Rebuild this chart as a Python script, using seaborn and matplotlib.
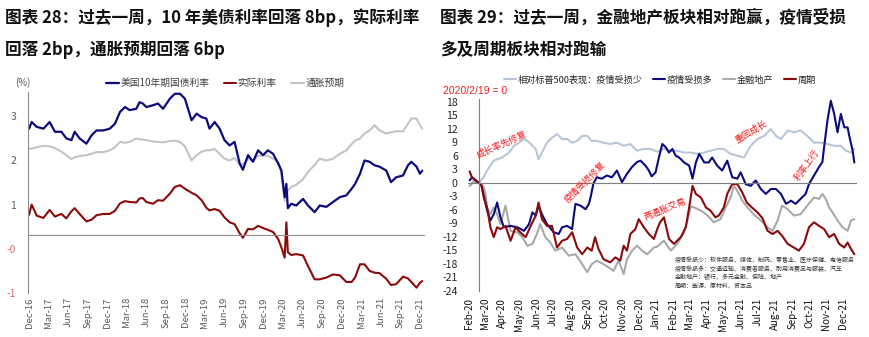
import matplotlib
matplotlib.use("Agg")
import matplotlib.pyplot as plt
import matplotlib.dates as mdates
import pandas as pd
import seaborn as sns

sns.set_theme(style="white")
plt.rcParams["font.family"] = ["Noto Sans CJK SC", "DejaVu Sans"]
plt.rcParams["axes.unicode_minus"] = False

# ---------------- 图表 28：美债利率 / 实际利率 / 通胀预期 (%) ----------------
us_dates = [
    "2016-12-01", "2016-12-13", "2017-01-06", "2017-02-06", "2017-03-07", "2017-04-01",
    "2017-05-01", "2017-05-24", "2017-06-17", "2017-07-02", "2017-07-25", "2017-08-26",
    "2017-09-19", "2017-10-12", "2017-11-13", "2017-12-13", "2018-01-06", "2018-01-30",
    "2018-02-22", "2018-03-16", "2018-04-16", "2018-05-01", "2018-05-16", "2018-06-02",
    "2018-07-03", "2018-07-26", "2018-08-19", "2018-09-20", "2018-10-13", "2018-11-06",
    "2018-11-29", "2018-12-30", "2019-01-23", "2019-02-15", "2019-03-09", "2019-03-24",
    "2019-04-17", "2019-05-10",
    "2019-06-02", "2019-06-26", "2019-07-19", "2019-08-12", "2019-08-27", "2019-09-20",
    "2019-10-13", "2019-11-06", "2019-11-29", "2019-12-22", "2020-01-15", "2020-02-08",
    "2020-02-23", "2020-03-09", "2020-03-17", "2020-03-24", "2020-04-09", "2020-05-02",
    "2020-06-03", "2020-06-26", "2020-07-27", "2020-08-20", "2020-09-20", "2020-10-21",
    "2020-11-22", "2020-12-22", "2021-01-16", "2021-02-01", "2021-02-24", "2021-03-17",
    "2021-04-10", "2021-05-03", "2021-05-26", "2021-06-27", "2021-07-19", "2021-08-12",
    "2021-09-13", "2021-10-06", "2021-10-22", "2021-11-15", "2021-12-01", "2021-12-12",
]
ust10y = [
    2.72, 2.87, 2.76, 2.72, 2.87, 2.65, 2.65, 2.50, 2.46, 2.65,
    2.50, 2.38, 2.57, 2.68, 2.68, 2.72, 2.83, 3.10, 3.21, 3.14,
    3.17, 3.32, 3.29, 3.21, 3.25, 3.29, 3.17, 3.40, 3.51, 3.51,
    3.40, 2.91, 3.06, 2.98, 2.95, 2.72, 2.87, 2.72,
    2.46, 2.34, 2.42, 1.93, 1.79, 2.12, 1.97, 2.23, 2.12, 2.23,
    2.15, 1.93, 1.77, 1.17, 1.47, 0.92, 1.02, 0.98, 1.13, 0.98,
    0.83, 0.98, 0.95, 1.06, 1.17, 1.21, 1.36, 1.47, 1.70, 2.00,
    1.97, 1.89, 1.86, 1.77, 1.51, 1.62, 1.66, 1.89, 1.97, 1.86,
    1.70, 1.77,
]
real_rate = [
    0.77, 1.00, 0.75, 0.70, 0.88, 0.73, 0.79, 0.69, 0.85, 0.92,
    0.79, 0.62, 0.66, 0.76, 0.79, 0.79, 0.86, 1.03, 1.08, 1.06,
    1.05, 1.14, 1.15, 1.06, 1.02, 1.10, 1.09, 1.25, 1.40, 1.44,
    1.36, 1.27, 1.21, 1.10, 0.93, 0.87, 0.90, 0.86,
    0.71, 0.60, 0.56, 0.35, 0.25, 0.45, 0.44, 0.52, 0.47, 0.43,
    0.38, 0.22, 0.03, -0.20, 0.60, -0.08, -0.14, -0.12, -0.15, -0.39,
    -0.69, -0.69, -0.65, -0.58, -0.60, -0.75, -0.75, -0.65, -0.35, -0.35,
    -0.50, -0.54, -0.55, -0.68, -0.82, -0.80, -0.63, -0.67, -0.75, -0.88,
    -0.77, -0.73,
]
breakeven = [
    2.27, 2.27, 2.30, 2.33, 2.32, 2.28, 2.20, 2.12, 2.03, 2.07,
    2.10, 2.12, 2.15, 2.19, 2.19, 2.23, 2.30, 2.42, 2.40, 2.42,
    2.50, 2.48, 2.47, 2.46, 2.43, 2.42, 2.41, 2.44, 2.45, 2.42,
    2.32, 2.00, 2.12, 2.20, 2.23, 2.23, 2.26, 2.15,
    2.04, 2.00, 2.06, 1.90, 1.92, 2.03, 2.00, 2.10, 2.12, 2.10,
    2.04, 1.97, 1.70, 1.09, 1.20, 1.32, 1.40, 1.45, 1.58, 1.74,
    1.90, 2.04, 2.00, 2.04, 2.15, 2.23, 2.37, 2.45, 2.50, 2.61,
    2.68, 2.80, 2.68, 2.61, 2.64, 2.66, 2.66, 2.83, 2.95, 2.95,
    2.80, 2.72,
]
left_yticks = [-1, 0, 1, 2, 3]
left_yticklabels = ["-1", "-0", "1", "2", "3"]

# ---------------- 图表 29：相对标普500表现 (2020/2/19 = 0) ----------------
less_hit_dates = [
    "2020-02-03", "2020-02-10", "2020-02-19", "2020-02-28", "2020-03-05", "2020-03-11",
    "2020-03-17", "2020-03-23", "2020-04-01", "2020-04-10", "2020-04-16", "2020-04-22",
    "2020-05-01", "2020-05-10", "2020-05-16", "2020-05-22", "2020-05-31", "2020-06-05",
    "2020-06-11", "2020-06-20", "2020-06-29", "2020-07-08", "2020-07-17", "2020-07-26",
    "2020-08-04", "2020-08-13", "2020-08-22", "2020-08-31", "2020-09-08", "2020-09-17",
    "2020-09-29", "2020-10-11", "2020-10-23", "2020-11-04", "2020-11-16", "2020-11-28",
    "2020-12-10", "2020-12-22", "2021-01-03", "2021-01-15", "2021-01-27", "2021-02-08",
    "2021-02-20", "2021-03-04", "2021-03-16", "2021-03-28", "2021-04-08", "2021-04-20",
    "2021-05-02", "2021-05-14", "2021-05-26", "2021-06-07", "2021-06-19", "2021-07-01",
    "2021-07-13", "2021-07-25", "2021-08-03", "2021-08-12", "2021-08-24", "2021-09-04",
    "2021-09-16", "2021-09-28", "2021-10-10", "2021-10-22", "2021-11-03", "2021-11-15",
    "2021-11-27", "2021-12-06", "2021-12-15", "2021-12-21",
]
less_hit = [
    -0.7, 0.5, 0.0, 1.2, 2.7, 3.8, 4.9, 5.2, 5.6, 6.4,
    7.1, 8.2, 8.9, 9.7, 9.3, 8.6, 7.5, 5.2, 6.7, 8.9,
    10.0, 10.8, 9.7, 9.7, 8.9, 9.3, 10.4, 10.4, 9.3, 9.3,
    8.9, 8.6, 8.9, 8.2, 8.6, 7.1, 7.5, 7.5, 6.9, 7.5,
    7.1, 7.1, 6.7, 6.7, 6.4, 6.7, 7.1, 7.5, 7.5, 6.4,
    6.0, 5.6, 8.2, 9.7, 10.4, 11.9, 10.4, 9.7, 11.6, 11.2,
    11.6, 10.4, 8.9, 8.9, 8.6, 8.2, 8.2, 7.1, 6.7, 7.5,
]

more_hit_dates = [
    "2020-02-03", "2020-02-07", "2020-02-19", "2020-02-24", "2020-02-28", "2020-03-05",
    "2020-03-11", "2020-03-17", "2020-03-23", "2020-03-29", "2020-04-04", "2020-04-16",
    "2020-04-28", "2020-05-10", "2020-05-19", "2020-05-25", "2020-05-31", "2020-06-05",
    "2020-06-11", "2020-06-20", "2020-07-02", "2020-07-11", "2020-07-17", "2020-07-26",
    "2020-08-04", "2020-08-07", "2020-08-10", "2020-08-19", "2020-08-28", "2020-09-03",
    "2020-09-06", "2020-09-11", "2020-09-17", "2020-09-26", "2020-10-05", "2020-10-14",
    "2020-10-23", "2020-11-01", "2020-11-10", "2020-11-19", "2020-11-28", "2020-12-04",
    "2020-12-13", "2020-12-19", "2020-12-24", "2020-12-31", "2021-01-06", "2021-01-12",
    "2021-01-18", "2021-01-24", "2021-01-30", "2021-02-05", "2021-02-11", "2021-02-20",
    "2021-03-01", "2021-03-07", "2021-03-13", "2021-03-19", "2021-03-28", "2021-04-05",
    "2021-04-11", "2021-04-20", "2021-04-29", "2021-05-08", "2021-05-17", "2021-05-26",
    "2021-06-01", "2021-06-10", "2021-06-19", "2021-06-28", "2021-07-07", "2021-07-16",
    "2021-07-25", "2021-08-03", "2021-08-12", "2021-08-21", "2021-08-30", "2021-09-07",
    "2021-09-16", "2021-09-25", "2021-10-01", "2021-10-10", "2021-10-19", "2021-10-25",
    "2021-10-28", "2021-11-03", "2021-11-09", "2021-11-15", "2021-11-21", "2021-11-27",
    "2021-12-03", "2021-12-09", "2021-12-12", "2021-12-18", "2021-12-21",
]
more_hit = [
    0.5, 1.2, 0.0, -0.6, -2.8, -6.1, -8.4, -7.0, -4.4, -7.7,
    -9.9, -9.6, -9.9, -10.7, -9.2, -6.6, -7.3, -5.1, -7.0, -9.2,
    -11.0, -11.4, -9.9, -9.6, -10.3, -7.3, -4.7, -5.1, -5.9, -4.7,
    -3.2, -0.2, 1.2, 0.9, 1.6, 1.2, 2.7, 0.1, 2.0, 3.5,
    4.6, 4.9, 3.8, 2.7, 1.4, 2.3, 5.6, 8.6, 7.9, 6.7,
    7.5, 6.0, 5.6, 4.5, 3.8, 0.9, 4.5, 6.4, 4.5, 4.5,
    5.6, 3.8, 2.7, 4.9, 1.2, 0.9, 2.3, -0.3, -0.7, 0.5,
    -1.4, -2.5, -1.4, -1.4, -2.5, -4.7, -4.0, -4.7, -3.6, -2.5,
    -0.3, 1.6, 3.5, 4.6, 7.9, 13.8, 18.2, 15.3, 11.2, 15.3,
    12.3, 12.3, 10.4, 7.1, 4.5,
]

fin_dates = [
    "2020-02-03", "2020-02-10", "2020-02-19", "2020-02-28", "2020-03-03", "2020-03-05",
    "2020-03-11", "2020-03-17", "2020-03-23", "2020-03-29", "2020-04-07", "2020-04-16",
    "2020-04-28", "2020-05-07", "2020-05-16", "2020-05-25", "2020-06-02", "2020-06-08",
    "2020-06-17", "2020-06-26", "2020-07-05", "2020-07-17", "2020-07-29", "2020-08-10",
    "2020-08-22", "2020-08-31", "2020-09-08", "2020-09-17", "2020-09-29", "2020-10-08",
    "2020-10-17", "2020-10-26", "2020-11-04", "2020-11-10", "2020-11-19", "2020-11-28",
    "2020-12-07", "2020-12-16", "2020-12-28", "2021-01-03", "2021-01-15", "2021-01-27",
    "2021-02-08", "2021-02-20", "2021-02-26", "2021-03-04", "2021-03-10", "2021-03-22",
    "2021-04-03", "2021-04-14", "2021-04-26", "2021-05-05", "2021-05-14", "2021-05-20",
    "2021-05-26", "2021-06-04", "2021-06-12", "2021-06-24", "2021-07-07", "2021-07-19",
    "2021-07-28", "2021-08-06", "2021-08-14", "2021-08-24", "2021-09-04", "2021-09-16",
    "2021-09-28", "2021-10-10", "2021-10-19", "2021-10-25", "2021-10-31", "2021-11-06",
    "2021-11-12", "2021-11-21", "2021-11-30", "2021-12-09", "2021-12-15", "2021-12-21",
]
fin = [
    -0.7, 0.1, 0.0, -1.0, -3.0, -5.5, -7.0, -5.5, -7.0, -9.2,
    -5.1, -10.7, -11.0, -12.1, -14.0, -13.6, -11.4, -9.2, -12.1, -13.3,
    -15.1, -14.4, -16.2, -15.9, -18.1, -19.9, -18.1, -17.3, -18.1, -18.8,
    -19.6, -17.3, -20.3, -17.0, -15.1, -14.0, -15.1, -15.9, -14.4, -14.2,
    -12.9, -15.1, -13.6, -11.0, -8.4, -5.3, -5.5, -6.2, -7.3, -8.8,
    -8.1, -5.5, -3.3, -0.7, -1.8, -4.0, -5.3, -7.0, -8.4, -9.9,
    -10.7, -8.4, -5.1, -5.9, -7.3, -7.0, -5.1, -3.3, -3.6, -2.5,
    -3.6, -5.5, -6.6, -8.4, -9.9, -10.7, -8.4, -8.1,
]

cyc_dates = [
    "2020-02-03", "2020-02-07", "2020-02-19", "2020-02-24", "2020-02-28", "2020-03-05",
    "2020-03-11", "2020-03-17", "2020-03-23", "2020-03-29", "2020-04-07", "2020-04-16",
    "2020-04-25", "2020-05-03", "2020-05-13", "2020-05-22", "2020-05-31", "2020-06-05",
    "2020-06-11", "2020-06-20", "2020-06-29", "2020-07-08", "2020-07-17", "2020-07-26",
    "2020-08-04", "2020-08-13", "2020-08-22", "2020-08-31", "2020-09-08", "2020-09-14",
    "2020-09-20", "2020-09-29", "2020-10-11", "2020-10-20", "2020-10-29", "2020-11-04",
    "2020-11-10", "2020-11-16", "2020-11-25", "2020-12-01", "2020-12-10", "2020-12-19",
    "2020-12-28", "2021-01-03", "2021-01-08", "2021-01-15", "2021-01-24", "2021-02-02",
    "2021-02-14", "2021-02-23", "2021-03-01", "2021-03-07", "2021-03-13", "2021-03-22",
    "2021-03-31", "2021-04-08", "2021-04-17", "2021-04-23", "2021-05-02", "2021-05-08",
    "2021-05-17", "2021-05-26", "2021-06-04", "2021-06-12", "2021-06-21", "2021-07-01",
    "2021-07-10", "2021-07-19", "2021-07-28", "2021-08-06", "2021-08-14", "2021-08-24",
    "2021-09-04", "2021-09-13", "2021-09-22", "2021-10-01", "2021-10-10", "2021-10-19",
    "2021-10-28", "2021-11-06", "2021-11-15", "2021-11-24", "2021-12-03", "2021-12-09",
    "2021-12-15", "2021-12-21",
]
cyc = [
    2.5, 1.2, 0.0, -0.5, -3.2, -5.5, -9.9, -12.1, -9.9, -10.3,
    -9.6, -12.9, -9.9, -11.0, -12.1, -9.6, -7.3, -4.4, -8.1, -9.6,
    -9.6, -14.4, -12.9, -12.5, -11.0, -14.4, -15.9, -14.4, -15.1, -12.1,
    -14.7, -17.0, -17.7, -16.6, -17.3, -14.0, -15.1, -11.4, -10.3, -8.1,
    -9.9, -11.4, -12.5, -10.3, -8.8, -7.7, -12.5, -13.6, -12.1, -9.9,
    -5.5, -0.7, -2.5, -3.3, -5.5, -6.2, -7.7, -7.3, -5.5, -2.5,
    -0.3, -0.3, -2.2, -4.4, -5.5, -6.6, -7.9, -10.7, -11.4, -10.7,
    -11.8, -13.6, -14.4, -15.1, -13.6, -9.9, -8.8, -9.6, -10.3, -12.1,
    -11.4, -13.6, -14.4, -13.3, -14.7, -15.9,
]
right_yticks = list(range(-24, 19, 3))

NAVY = "#0B0B7E"
DARKRED = "#8B0A0A"
LIGHTGRAY = "#C4C4C4"
STEEL = "#B9C6D8"
MIDGRAY = "#A9A9A9"
AXGRAY = "#8C8C8C"
NEG_RED_L = "#E06A6A"
NEG_RED_R = "#E8201E"
ANNOT_RED = "#F01818"

W, H = 869, 337
fig = plt.figure(figsize=(W / 100, H / 100), dpi=100)

# ----------------------------- left panel ------------------------------
axL = fig.add_axes([28 / W, 1 - 293 / H, (424 - 28) / W, (293 - 92) / H])
left_df = pd.DataFrame({
    "date": pd.to_datetime(us_dates),
    "ust": ust10y, "real": real_rate, "bei": breakeven,
})
sns.lineplot(data=left_df, x="date", y="bei", ax=axL, color=LIGHTGRAY, lw=1.5, label="通胀预期")
sns.lineplot(data=left_df, x="date", y="real", ax=axL, color=DARKRED, lw=1.5, label="实际利率")
sns.lineplot(data=left_df, x="date", y="ust", ax=axL, color=NAVY, lw=1.6, label="美国10年期国债利率")

axL.set_xlim(pd.Timestamp("2016-11-26"), pd.Timestamp("2021-12-20"))
axL.set_ylim(-1, 3.55)
axL.set_xlabel("")
axL.set_ylabel("")
axL.set_yticks(left_yticks)
axL.set_yticklabels(left_yticklabels)
for lab, val in zip(axL.get_yticklabels(), left_yticks):
    lab.set_color(NEG_RED_L if val <= 0 else "#595959")
axL.tick_params(axis="y", length=0, pad=8.5, labelsize=7.5)

q_ticks = pd.date_range("2016-12-01", "2021-12-01", freq="3MS")
axL.set_xticks(q_ticks)
axL.xaxis.set_major_formatter(mdates.DateFormatter("%b-%y"))
axL.tick_params(axis="x", direction="out", length=3, width=0.8, color=AXGRAY,
                pad=42, labelrotation=90, labelsize=6.8, labelcolor="#595959")
axL.spines["bottom"].set_position(("data", 0.32))
for side in ("top", "right"):
    axL.spines[side].set_visible(False)
for side in ("left", "bottom"):
    axL.spines[side].set_color(AXGRAY)
    axL.spines[side].set_linewidth(0.8)
axL.grid(False)

hL, lL = axL.get_legend_handles_labels()
axL.get_legend().remove()
order = [2, 1, 0]
fig.legend([hL[i] for i in order], [lL[i] for i in order], loc="center left",
           bbox_to_anchor=(106 / W, 1 - 83 / H), ncol=3, frameon=False, fontsize=7,
           handlelength=1.3, handletextpad=0.15, columnspacing=1.5,
           borderaxespad=0, borderpad=0, labelcolor="#404040")
fig.text(15 / W, 1 - 83 / H, "(%)", fontsize=7, color="#595959", ha="left", va="center")

# ----------------------------- right panel -----------------------------
axR = fig.add_axes([468 / W, 1 - 290.7 / H, (856 - 468) / W, (290.7 - 99) / H])
series = [
    (less_hit_dates, less_hit, STEEL, "相对标普500表现：疫情受损少"),
    (fin_dates, fin, MIDGRAY, "金融地产"),
    (more_hit_dates, more_hit, NAVY, "疫情受损多"),
    (cyc_dates, cyc, DARKRED, "周期"),
]
for dates, vals, col, name in series:
    sns.lineplot(x=pd.to_datetime(dates), y=vals, ax=axR, color=col, lw=1.5, label=name)

base_day = pd.Timestamp("2020-02-19")
axR.set_xlim(pd.Timestamp("2020-01-31"), pd.Timestamp("2021-12-24"))
axR.set_ylim(-24, 18.6)
axR.set_xlabel("")
axR.set_ylabel("")
axR.set_yticks(right_yticks)
axR.set_yticklabels([str(v) for v in right_yticks])
for lab, val in zip(axR.get_yticklabels(), right_yticks):
    lab.set_color(NEG_RED_R if val < 0 else "#1A1A1A")
    lab.set_fontfamily(["Liberation Sans", "DejaVu Sans"])
axR.tick_params(axis="y", direction="out", length=2.5, width=0.8, color="#666666",
                pad=12.5, labelsize=7.6)

m_ticks = pd.date_range("2020-02-01", "2021-12-01", freq="MS")
axR.set_xticks(m_ticks)
axR.xaxis.set_major_formatter(mdates.DateFormatter("%b-%y"))
axR.tick_params(axis="x", direction="out", length=3, width=0.8, color="#666666",
                pad=80, labelrotation=90, labelsize=7, labelcolor="#111111")
for lab in axR.get_xticklabels():
    lab.set_fontfamily(["Liberation Sans", "DejaVu Sans"])
axR.spines["left"].set_position(("data", mdates.date2num(base_day)))
axR.spines["bottom"].set_position(("data", 0))
for side in ("top", "right"):
    axR.spines[side].set_visible(False)
for side in ("left", "bottom"):
    axR.spines[side].set_color("#7F7F7F")
    axR.spines[side].set_linewidth(0.8)
axR.grid(False)

hR, lR = axR.get_legend_handles_labels()
axR.get_legend().remove()
order = [0, 2, 1, 3]
fig.legend([hR[i] for i in order], [lR[i] for i in order], loc="center left",
           bbox_to_anchor=(504 / W, 1 - 80 / H), ncol=4, frameon=False, fontsize=6.6,
           handlelength=1.3, handletextpad=0.15, columnspacing=1.2,
           borderaxespad=0, borderpad=0, labelcolor="#222222")

fig.text(443 / W, 1 - 91 / H, "2020/2/19 = 0", fontsize=7.5, color=NEG_RED_R,
         ha="left", va="center", family=["Liberation Sans", "DejaVu Sans"])

annotations = [
    ("成长率先修复", "2020-04-01", 8.4, 24),
    ("疫情受损修复", "2020-08-28", 0.0, 45),
    ("两通胀交易", "2021-01-16", -5.8, 22),
    ("重回成长", "2021-06-20", 11.3, 30),
    ("利率上行", "2021-09-28", 3.8, 55),
]
for txt, d, v, rot in annotations:
    axR.text(pd.Timestamp(d), v, txt, color=ANNOT_RED, fontsize=6.5, rotation=rot,
             ha="center", va="center", rotation_mode="anchor")

notes = [
    "疫情受损少：软件服务、媒体、制药、零售业、医疗保健、电信服务",
    "疫情受损多：交通运输、消费者服务、耐用消费品与服装、汽车",
    "金融地产：银行、多元金融、保险、地产",
    "周期：能源、原材料、资本品",
]
for i, line in enumerate(notes):
    fig.text(675 / W, 1 - (260 + 8.5 * i) / H, line, fontsize=4.3, color="#333333",
             ha="left", va="center")

# ------------------------------ titles ---------------------------------
title_kw = dict(fontsize=12, fontweight="bold", color="#111111", ha="left", va="center")
fig.text(5 / W, 1 - 18 / H, "图表 28：过去一周，10 年美债利率回落 8bp，实际利率", **title_kw)
fig.text(5 / W, 1 - 50 / H, "回落 2bp，通胀预期回落 6bp", **title_kw)
fig.text(440 / W, 1 - 18 / H, "图表 29：过去一周，金融地产板块相对跑赢，疫情受损", **title_kw)
fig.text(440 / W, 1 - 50 / H, "多及周期板块相对跑输", **title_kw)

fig.savefig("out.png", dpi=100, facecolor="white")
